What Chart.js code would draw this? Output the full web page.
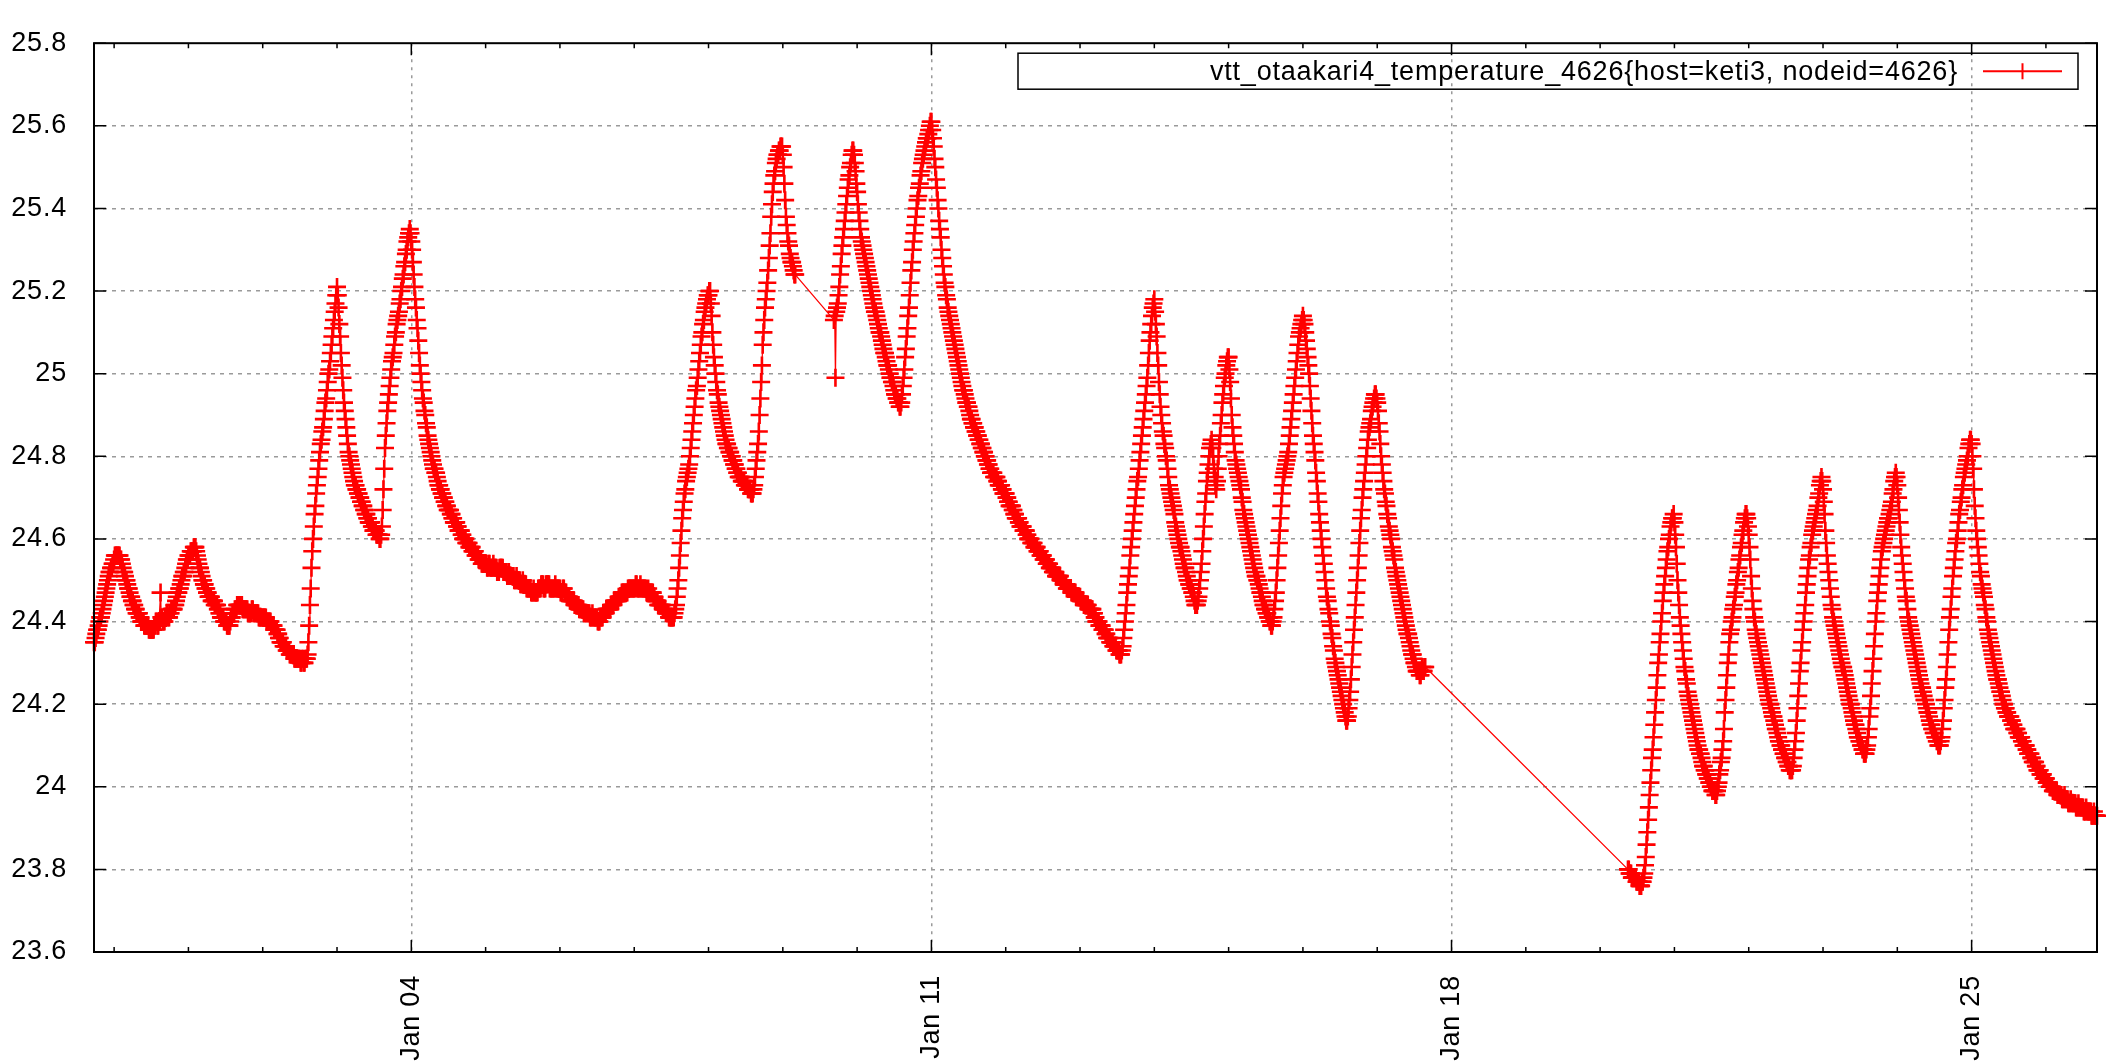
<!DOCTYPE html>
<html>
<head>
<meta charset="utf-8">
<script src="https://cdn.jsdelivr.net/npm/chart.js@4.4.1/dist/chart.umd.min.js"></script>
<style>
  html, body { margin: 0; padding: 0; background: #ffffff; }
  canvas { display: block; }
</style>
</head>
<body>
<canvas id="chart" width="2112" height="1063"></canvas>
<script>
// ---------------- DATA ----------------
const SERIES_LABEL = "vtt_otaakari4_temperature_4626{host=keti3, nodeid=4626}";
// x values are "day of January" (Jan 1 00:00 = 1, Dec 31 00:00 = 0)
const SAMPLE_STEP_DAYS = 1 / 96;                      // 15-minute samples
const segmentStartDays = [-0.2708333, 9.6875, 20.375]; // start of each recorded stretch

const seg1Temps = [
  24.35,24.35,24.36,24.37,24.38,24.38,24.39,24.40,24.41,24.41,24.42,24.43,24.44,24.45,24.46,24.47,24.48,24.49,24.50,24.51,24.52,24.52,24.53,24.53,24.54,24.54,
  // Dec 31
  24.55,24.56,24.56,24.56,24.56,24.56,24.56,24.56,24.55,24.55,24.54,24.53,24.52,24.52,24.51,24.50,24.50,24.49,24.48,24.48,24.47,24.46,24.46,24.45,
  24.45,24.44,24.44,24.43,24.43,24.42,24.42,24.42,24.42,24.41,24.41,24.40,24.40,24.40,24.40,24.39,24.39,24.39,24.39,24.39,24.39,24.38,24.38,24.38,
  24.38,24.38,24.38,24.38,24.39,24.39,24.40,24.40,24.39,24.39,24.40,24.40,24.47,24.41,24.41,24.40,24.40,24.40,24.41,24.41,24.42,24.42,24.41,24.41,
  24.42,24.42,24.43,24.43,24.43,24.43,24.44,24.44,24.45,24.46,24.47,24.47,24.48,24.48,24.49,24.50,24.51,24.51,24.52,24.52,24.53,24.54,24.55,24.55,
  // Jan 01
  24.56,24.56,24.56,24.57,24.57,24.57,24.57,24.58,24.58,24.58,24.57,24.56,24.55,24.54,24.53,24.53,24.52,24.51,24.50,24.50,24.49,24.49,24.48,24.48,
  24.47,24.47,24.46,24.46,24.46,24.46,24.45,24.45,24.45,24.45,24.44,24.44,24.44,24.44,24.43,24.43,24.42,24.42,24.41,24.41,24.41,24.41,24.40,24.40,
  24.40,24.40,24.39,24.39,24.39,24.39,24.40,24.41,24.41,24.42,24.42,24.42,24.43,24.43,24.43,24.44,24.44,24.44,24.44,24.44,24.44,24.44,24.43,24.43,
  24.43,24.43,24.43,24.43,24.43,24.42,24.42,24.42,24.42,24.42,24.43,24.43,24.42,24.42,24.42,24.42,24.42,24.42,24.42,24.41,24.41,24.41,24.41,24.41,
  // Jan 02
  24.41,24.41,24.41,24.41,24.41,24.40,24.40,24.40,24.40,24.40,24.40,24.39,24.39,24.39,24.39,24.38,24.38,24.38,24.38,24.37,24.37,24.36,24.36,24.35,
  24.35,24.35,24.35,24.34,24.34,24.34,24.34,24.33,24.33,24.33,24.33,24.32,24.32,24.32,24.32,24.32,24.32,24.31,24.31,24.31,24.31,24.31,24.31,24.31,
  24.31,24.30,24.30,24.31,24.31,24.30,24.30,24.31,24.31,24.31,24.32,24.35,24.39,24.44,24.48,24.53,24.57,24.60,24.63,24.66,24.68,24.71,24.73,24.75,
  24.77,24.79,24.81,24.83,24.84,24.86,24.87,24.89,24.91,24.93,24.94,24.96,24.98,25.00,25.01,25.03,25.05,25.07,25.09,25.11,25.13,25.15,25.17,25.19,
  // Jan 03
  25.21,25.19,25.16,25.12,25.09,25.05,25.02,24.99,24.96,24.93,24.91,24.89,24.87,24.85,24.83,24.81,24.80,24.79,24.78,24.77,24.76,24.75,24.74,24.73,
  24.73,24.72,24.72,24.71,24.71,24.70,24.70,24.69,24.69,24.68,24.68,24.67,24.67,24.66,24.66,24.65,24.65,24.64,24.64,24.64,24.64,24.63,24.63,24.62,
  24.62,24.62,24.62,24.61,24.61,24.61,24.61,24.60,24.60,24.61,24.63,24.67,24.72,24.77,24.82,24.85,24.88,24.91,24.93,24.95,24.97,24.99,25.01,25.03,
  25.04,25.05,25.07,25.09,25.10,25.12,25.13,25.14,25.15,25.17,25.18,25.20,25.21,25.23,25.24,25.26,25.27,25.29,25.30,25.32,25.33,25.34,25.35,25.34,
  // Jan 04
  25.32,25.30,25.27,25.24,25.21,25.18,25.16,25.13,25.11,25.08,25.05,25.02,25.00,24.98,24.96,24.94,24.93,24.91,24.90,24.88,24.87,24.85,24.84,24.83,
  24.82,24.81,24.80,24.79,24.78,24.77,24.77,24.76,24.76,24.75,24.74,24.73,24.73,24.72,24.72,24.71,24.71,24.70,24.70,24.69,24.69,24.68,24.68,24.67,
  24.67,24.67,24.67,24.66,24.66,24.65,24.65,24.64,24.64,24.64,24.64,24.63,24.63,24.62,24.62,24.62,24.62,24.61,24.61,24.60,24.60,24.60,24.60,24.59,
  24.59,24.59,24.59,24.58,24.58,24.58,24.58,24.57,24.57,24.57,24.57,24.56,24.56,24.56,24.56,24.55,24.55,24.55,24.55,24.54,24.54,24.54,24.54,24.54,
  // Jan 05
  24.54,24.54,24.53,24.53,24.54,24.54,24.53,24.53,24.53,24.53,24.54,24.53,24.53,24.53,24.53,24.52,24.52,24.52,24.53,24.53,24.53,24.53,24.53,24.52,
  24.52,24.52,24.52,24.52,24.51,24.51,24.52,24.51,24.51,24.51,24.51,24.51,24.51,24.50,24.50,24.50,24.51,24.50,24.50,24.50,24.50,24.49,24.49,24.49,
  24.50,24.49,24.49,24.49,24.49,24.48,24.48,24.48,24.48,24.48,24.48,24.47,24.47,24.47,24.48,24.47,24.47,24.47,24.47,24.47,24.48,24.48,24.48,24.48,
  24.49,24.49,24.49,24.48,24.48,24.48,24.49,24.49,24.49,24.49,24.49,24.48,24.48,24.48,24.48,24.48,24.48,24.48,24.49,24.48,24.48,24.48,24.48,24.48,
  // Jan 06
  24.48,24.47,24.47,24.47,24.48,24.48,24.47,24.47,24.47,24.46,24.46,24.46,24.46,24.45,24.45,24.45,24.45,24.45,24.45,24.44,24.44,24.44,24.44,24.44,
  24.44,24.43,24.43,24.43,24.43,24.43,24.43,24.42,24.42,24.42,24.42,24.42,24.42,24.42,24.42,24.41,24.41,24.41,24.42,24.41,24.41,24.41,24.41,24.41,
  24.41,24.40,24.40,24.40,24.41,24.41,24.41,24.41,24.42,24.42,24.42,24.42,24.43,24.43,24.43,24.43,24.43,24.43,24.44,24.44,24.44,24.44,24.45,24.45,
  24.45,24.45,24.45,24.45,24.46,24.46,24.46,24.46,24.47,24.47,24.47,24.47,24.47,24.47,24.47,24.47,24.48,24.48,24.48,24.48,24.48,24.48,24.48,24.48,
  // Jan 07
  24.48,24.48,24.49,24.49,24.48,24.48,24.48,24.48,24.49,24.48,24.48,24.48,24.48,24.48,24.48,24.48,24.47,24.47,24.48,24.47,24.47,24.47,24.47,24.47,
  24.47,24.46,24.46,24.45,24.45,24.45,24.45,24.44,24.44,24.44,24.44,24.44,24.44,24.43,24.43,24.43,24.43,24.42,24.42,24.42,24.42,24.41,24.41,24.41,
  24.41,24.41,24.41,24.41,24.42,24.43,24.44,24.46,24.48,24.50,24.53,24.56,24.59,24.62,24.65,24.67,24.69,24.71,24.72,24.74,24.75,24.76,24.77,24.78,
  24.80,24.82,24.84,24.86,24.88,24.90,24.92,24.94,24.96,24.97,24.99,25.01,25.03,25.05,25.07,25.09,25.10,25.12,25.13,25.15,25.16,25.17,25.18,25.19,
  // Jan 08
  25.19,25.20,25.20,25.17,25.14,25.10,25.07,25.04,25.02,25.00,24.98,24.96,24.95,24.93,24.92,24.91,24.90,24.89,24.88,24.87,24.86,24.85,24.84,24.83,
  24.83,24.82,24.82,24.81,24.81,24.80,24.80,24.79,24.79,24.78,24.78,24.77,24.77,24.76,24.76,24.75,24.75,24.75,24.75,24.74,24.74,24.74,24.74,24.73,
  24.73,24.73,24.73,24.72,24.72,24.72,24.72,24.71,24.71,24.71,24.72,24.73,24.75,24.77,24.79,24.81,24.83,24.86,24.90,24.94,24.98,25.02,25.07,25.10,
  25.13,25.16,25.18,25.20,25.22,25.25,25.28,25.31,25.34,25.38,25.41,25.44,25.46,25.48,25.49,25.51,25.52,25.53,25.53,25.54,25.54,25.55,25.55,25.55,
  // Jan 09
  25.53,25.50,25.46,25.42,25.38,25.36,25.34,25.32,25.31,25.29,25.28,25.27,25.27,25.26,25.25,25.24,25.24
];

const seg2Temps = [
  25.13,25.14,24.99,25.15,25.16,25.17,25.19,25.21,25.24,25.26,25.29,25.31,25.33,25.35,25.37,25.39,25.41,25.43,25.45,25.47,25.48,25.50,25.51,25.53,25.54,25.54,25.53,25.51,25.49,25.46,
  // Jan 10
  25.44,25.41,25.39,25.37,25.35,25.33,25.32,25.31,25.30,25.29,25.28,25.27,25.26,25.25,25.24,25.23,25.22,25.21,25.20,25.19,25.18,25.17,25.16,25.15,
  25.15,25.14,25.13,25.12,25.11,25.10,25.10,25.09,25.08,25.07,25.06,25.05,25.05,25.04,25.03,25.02,25.02,25.01,25.00,24.99,24.99,24.98,24.98,24.97,
  24.96,24.95,24.95,24.94,24.94,24.93,24.93,24.92,24.92,24.93,24.95,24.97,24.99,25.01,25.04,25.06,25.09,25.11,25.14,25.16,25.19,25.22,25.25,25.27,
  25.30,25.32,25.34,25.36,25.38,25.40,25.42,25.43,25.45,25.46,25.48,25.49,25.51,25.52,25.53,25.54,25.55,25.56,25.57,25.57,25.58,25.59,25.60,25.61,
  // Jan 11
  25.61,25.59,25.57,25.55,25.52,25.50,25.47,25.45,25.42,25.40,25.37,25.35,25.33,25.30,25.28,25.26,25.24,25.22,25.21,25.19,25.18,25.16,25.15,25.14,
  25.13,25.12,25.11,25.10,25.09,25.08,25.07,25.06,25.05,25.04,25.03,25.02,25.01,25.00,24.99,24.98,24.97,24.96,24.96,24.95,24.94,24.93,24.93,24.92,
  24.92,24.91,24.90,24.89,24.89,24.88,24.88,24.87,24.87,24.86,24.86,24.85,24.85,24.84,24.84,24.83,24.83,24.82,24.82,24.81,24.81,24.80,24.80,24.79,
  24.79,24.78,24.78,24.77,24.77,24.76,24.76,24.76,24.76,24.75,24.75,24.75,24.75,24.74,24.74,24.73,24.73,24.73,24.73,24.72,24.72,24.71,24.71,24.71,
  // Jan 12
  24.71,24.70,24.70,24.69,24.69,24.68,24.68,24.68,24.68,24.67,24.67,24.66,24.66,24.65,24.65,24.65,24.65,24.64,24.64,24.63,24.63,24.63,24.63,24.62,
  24.62,24.62,24.62,24.61,24.61,24.60,24.60,24.60,24.60,24.59,24.59,24.59,24.59,24.58,24.58,24.58,24.58,24.57,24.57,24.57,24.57,24.56,24.56,24.56,
  24.56,24.55,24.55,24.55,24.55,24.54,24.54,24.54,24.54,24.53,24.53,24.53,24.53,24.52,24.52,24.52,24.52,24.51,24.51,24.51,24.51,24.51,24.51,24.50,
  24.50,24.50,24.50,24.49,24.49,24.49,24.49,24.48,24.48,24.48,24.48,24.48,24.48,24.47,24.47,24.47,24.47,24.47,24.47,24.46,24.46,24.46,24.46,24.46,
  // Jan 13
  24.46,24.45,24.45,24.45,24.45,24.44,24.44,24.44,24.44,24.44,24.44,24.43,24.43,24.43,24.43,24.43,24.43,24.42,24.42,24.41,24.41,24.40,24.40,24.40,
  24.40,24.39,24.39,24.39,24.39,24.38,24.38,24.38,24.38,24.37,24.37,24.36,24.36,24.36,24.36,24.35,24.35,24.35,24.35,24.34,24.34,24.34,24.34,24.33,
  24.33,24.33,24.33,24.32,24.32,24.32,24.33,24.34,24.36,24.38,24.40,24.42,24.44,24.47,24.49,24.51,24.53,24.56,24.58,24.60,24.62,24.64,24.66,24.68,
  24.70,24.72,24.74,24.75,24.77,24.79,24.81,24.83,24.85,24.87,24.89,24.91,24.93,24.95,24.97,24.99,25.02,25.05,25.08,25.10,25.12,25.14,25.16,25.17,
  // Jan 14
  25.18,25.15,25.12,25.09,25.05,25.02,24.98,24.95,24.92,24.90,24.88,24.86,24.85,24.83,24.82,24.80,24.79,24.77,24.75,24.73,24.72,24.71,24.70,24.69,
  24.68,24.67,24.66,24.64,24.63,24.62,24.61,24.60,24.59,24.58,24.58,24.57,24.56,24.55,24.54,24.53,24.53,24.52,24.51,24.50,24.50,24.49,24.49,24.48,
  24.48,24.47,24.47,24.46,24.45,24.44,24.44,24.44,24.45,24.46,24.48,24.50,24.52,24.54,24.57,24.60,24.63,24.66,24.69,24.71,24.74,24.76,24.78,24.80,
  24.82,24.83,24.84,24.82,24.80,24.77,24.75,24.73,24.72,24.74,24.77,24.80,24.83,24.85,24.88,24.90,24.93,24.95,24.97,24.99,25.00,25.02,25.03,25.04,
  // Jan 15
  25.04,25.01,24.98,24.94,24.90,24.87,24.85,24.83,24.81,24.79,24.78,24.77,24.76,24.75,24.74,24.73,24.72,24.70,24.69,24.67,24.66,24.65,24.64,24.63,
  24.62,24.61,24.60,24.59,24.58,24.57,24.56,24.55,24.54,24.53,24.52,24.51,24.51,24.50,24.50,24.49,24.48,24.47,24.47,24.46,24.45,24.44,24.44,24.43,
  24.43,24.42,24.42,24.41,24.41,24.40,24.40,24.39,24.39,24.40,24.41,24.43,24.45,24.47,24.50,24.53,24.56,24.59,24.62,24.65,24.68,24.71,24.73,24.75,
  24.76,24.77,24.78,24.79,24.80,24.81,24.83,24.85,24.87,24.89,24.91,24.93,24.95,24.97,24.99,25.01,25.03,25.05,25.07,25.09,25.10,25.11,25.12,25.13,
  // Jan 16
  25.14,25.13,25.12,25.10,25.08,25.06,25.04,25.02,25.00,24.97,24.94,24.91,24.88,24.85,24.83,24.81,24.79,24.76,24.74,24.71,24.69,24.66,24.64,24.62,
  24.60,24.58,24.56,24.54,24.52,24.50,24.48,24.46,24.45,24.43,24.42,24.40,24.39,24.37,24.36,24.34,24.33,24.31,24.30,24.29,24.28,24.27,24.26,24.25,
  24.24,24.23,24.22,24.21,24.20,24.19,24.18,24.17,24.16,24.16,24.17,24.19,24.21,24.23,24.26,24.29,24.32,24.35,24.38,24.41,24.44,24.47,24.50,24.53,
  24.56,24.59,24.62,24.65,24.67,24.70,24.72,24.74,24.76,24.78,24.80,24.82,24.84,24.86,24.87,24.88,24.89,24.91,24.92,24.93,24.94,24.95,24.95,24.94,
  // Jan 17
  24.93,24.91,24.88,24.86,24.83,24.80,24.78,24.76,24.74,24.72,24.71,24.69,24.68,24.66,24.65,24.63,24.62,24.61,24.60,24.58,24.57,24.56,24.55,24.53,
  24.52,24.51,24.50,24.49,24.48,24.47,24.46,24.45,24.44,24.43,24.42,24.41,24.40,24.39,24.38,24.37,24.37,24.36,24.35,24.34,24.33,24.32,24.32,24.31,
  24.30,24.30,24.29,24.28,24.28,24.28,24.28,24.27,24.27,24.28,24.29,24.28,24.28,24.29,24.29
];

const seg3Temps = [
  23.80,23.80,23.79,23.79,23.79,23.78,23.78,23.78,23.78,23.78,23.78,23.77,23.77,23.77,23.77,23.76,23.76,23.76,23.77,23.77,23.78,23.79,23.81,23.83,
  23.86,23.89,23.92,23.95,23.98,24.01,24.04,24.07,24.09,24.12,24.15,24.18,24.21,24.24,24.27,24.30,24.32,24.35,24.37,24.40,24.42,24.45,24.47,24.49,
  24.51,24.53,24.55,24.57,24.58,24.60,24.61,24.63,24.64,24.65,24.65,24.66,
  // Jan 21
  24.64,24.61,24.58,24.54,24.50,24.47,24.44,24.41,24.39,24.37,24.35,24.33,24.31,24.29,24.28,24.26,24.25,24.23,24.22,24.21,24.20,24.19,24.18,24.17,
  24.16,24.15,24.14,24.13,24.12,24.11,24.10,24.09,24.09,24.08,24.08,24.07,24.06,24.05,24.05,24.04,24.04,24.03,24.03,24.02,24.02,24.01,24.01,24.00,
  24.00,23.99,23.99,23.99,23.99,23.98,23.98,23.99,24.00,24.01,24.03,24.04,24.06,24.07,24.09,24.11,24.14,24.18,24.21,24.24,24.27,24.30,24.32,24.35,
  24.37,24.38,24.40,24.41,24.43,24.44,24.46,24.47,24.49,24.50,24.52,24.53,24.55,24.56,24.58,24.59,24.61,24.62,24.64,24.65,24.66,24.66,24.65,24.63,
  // Jan 22
  24.61,24.58,24.55,24.51,24.48,24.45,24.43,24.41,24.40,24.38,24.37,24.36,24.35,24.34,24.33,24.32,24.31,24.30,24.29,24.28,24.27,24.26,24.25,24.24,
  24.23,24.22,24.21,24.20,24.20,24.19,24.18,24.17,24.17,24.16,24.15,24.14,24.14,24.13,24.12,24.11,24.11,24.10,24.10,24.09,24.09,24.08,24.08,24.07,
  24.07,24.06,24.06,24.05,24.05,24.04,24.04,24.04,24.04,24.05,24.07,24.09,24.11,24.13,24.16,24.19,24.22,24.25,24.28,24.30,24.33,24.35,24.38,24.40,
  24.42,24.44,24.47,24.49,24.51,24.53,24.55,24.56,24.58,24.59,24.61,24.62,24.63,24.64,24.65,24.66,24.67,24.68,24.70,24.71,24.73,24.74,24.75,24.74,
  // Jan 23
  24.72,24.69,24.66,24.62,24.59,24.56,24.54,24.52,24.50,24.48,24.46,24.44,24.43,24.41,24.40,24.39,24.38,24.37,24.36,24.35,24.34,24.33,24.32,24.31,
  24.30,24.29,24.29,24.28,24.27,24.26,24.25,24.24,24.23,24.22,24.21,24.20,24.20,24.19,24.18,24.17,24.16,24.15,24.15,24.14,24.13,24.12,24.12,24.11,
  24.11,24.10,24.10,24.09,24.09,24.08,24.08,24.08,24.09,24.10,24.12,24.14,24.17,24.19,24.22,24.25,24.28,24.31,24.34,24.37,24.40,24.42,24.45,24.47,
  24.49,24.51,24.53,24.55,24.57,24.58,24.59,24.60,24.61,24.62,24.63,24.64,24.65,24.65,24.66,24.67,24.68,24.69,24.71,24.72,24.74,24.75,24.76,24.75,
  // Jan 24
  24.73,24.70,24.67,24.64,24.61,24.58,24.56,24.54,24.52,24.50,24.48,24.46,24.45,24.43,24.41,24.40,24.39,24.38,24.37,24.36,24.35,24.34,24.33,24.32,
  24.31,24.30,24.29,24.28,24.27,24.26,24.25,24.24,24.24,24.23,24.22,24.21,24.21,24.20,24.19,24.18,24.18,24.17,24.16,24.15,24.15,24.14,24.14,24.13,
  24.13,24.12,24.12,24.11,24.11,24.10,24.10,24.10,24.11,24.12,24.14,24.16,24.19,24.21,24.24,24.26,24.29,24.32,24.35,24.38,24.41,24.43,24.46,24.48,
  24.51,24.53,24.55,24.57,24.59,24.60,24.62,24.64,24.66,24.67,24.69,24.70,24.72,24.73,24.75,24.76,24.77,24.78,24.79,24.80,24.82,24.83,24.84,24.84,
  // Jan 25
  24.83,24.80,24.77,24.72,24.68,24.65,24.62,24.60,24.58,24.56,24.54,24.52,24.51,24.49,24.48,24.47,24.46,24.44,24.43,24.41,24.40,24.38,24.37,24.36,
  24.35,24.34,24.33,24.32,24.31,24.30,24.29,24.28,24.27,24.26,24.26,24.25,24.24,24.23,24.23,24.22,24.21,24.20,24.20,24.19,24.19,24.18,24.18,24.17,
  24.17,24.17,24.17,24.16,24.16,24.15,24.15,24.14,24.14,24.14,24.14,24.13,24.13,24.12,24.12,24.12,24.12,24.11,24.11,24.10,24.10,24.10,24.10,24.09,
  24.09,24.08,24.08,24.08,24.08,24.07,24.07,24.06,24.06,24.06,24.06,24.05,24.05,24.04,24.04,24.04,24.04,24.03,24.03,24.03,24.03,24.02,24.02,24.02,
  // Jan 26
  24.02,24.01,24.01,24.01,24.01,24.00,24.00,24.00,24.00,23.99,23.99,23.99,23.99,23.99,23.99,23.98,23.98,23.98,23.98,23.98,23.98,23.97,23.97,23.97,
  23.98,23.97,23.97,23.97,23.97,23.96,23.96,23.96,23.97,23.96,23.96,23.96,23.96,23.96,23.96,23.95,23.95,23.95,23.96,23.95,23.95,23.95,23.95,23.95,
  23.95,23.94,23.94,23.94,23.95,23.94,23.94,23.94,23.94,23.94,23.94,23.93,23.93,23.93,23.94,23.93,23.93,23.93,23.93
];

const xLabelDays  = [4, 11, 18, 25];
const xLabelTexts = ["Jan 04", "Jan 11", "Jan 18", "Jan 25"];
const yMin = 23.6, yMax = 25.8, yStep = 0.2;

// ---------------- BUILD ----------------
const points = [];
[seg1Temps, seg2Temps, seg3Temps].forEach((seg, s) => {
  seg.forEach((v, i) => points.push({ x: segmentStartDays[s] + i * SAMPLE_STEP_DAYS, y: v }));
});
const xMin = points[0].x, xMax = points[points.length - 1].x;

const FONT_FAMILY = "'Liberation Sans', Arial, sans-serif";
const FONT = { family: FONT_FAMILY, size: 27 };
const GRID_COLOR = '#9a9a9a';
const CLEAR = 'rgba(0,0,0,0)';

const spacingPlugin = {
  id: 'spacing',
  beforeDraw(chart) { try { chart.ctx.letterSpacing = '0.8px'; } catch (e) {} }
};

const frameTicksPlugin = {
  id: 'frameTicks',
  afterDraw(chart) {
    const { ctx, chartArea: a, scales: { x, y } } = chart;
    ctx.save();
    ctx.strokeStyle = '#000';
    ctx.lineWidth = 1.5;
    ctx.beginPath();
    y.ticks.forEach(t => {
      const py = y.getPixelForValue(t.value);
      ctx.moveTo(a.left, py); ctx.lineTo(a.left + 12, py);
      ctx.moveTo(a.right, py); ctx.lineTo(a.right - 12, py);
    });
    x.ticks.forEach(t => {
      const px = x.getPixelForValue(t.value);
      const len = xLabelDays.includes(t.value) ? 12 : 5;
      ctx.moveTo(px, a.bottom); ctx.lineTo(px, a.bottom - len);
      ctx.moveTo(px, a.top); ctx.lineTo(px, a.top + len);
    });
    ctx.stroke();
    ctx.lineWidth = 2;
    ctx.strokeRect(a.left, a.top, a.right - a.left, a.bottom - a.top);
    ctx.restore();
  }
};

const keyPlugin = {
  id: 'gnuplotKey',
  afterDraw(chart) {
    const { ctx, chartArea: a } = chart;
    const ds = chart.data.datasets[0];
    const boxL = a.right - 1079, boxR = a.right - 19, boxT = a.top + 10, boxB = a.top + 46;
    const cy = (boxT + boxB) / 2;
    ctx.save();
    ctx.strokeStyle = '#000';
    ctx.lineWidth = 1.5;
    ctx.strokeRect(boxL, boxT, boxR - boxL, boxB - boxT);
    ctx.font = '27px ' + FONT_FAMILY;
    ctx.fillStyle = '#000';
    ctx.textAlign = 'right';
    ctx.textBaseline = 'middle';
    ctx.fillText(ds.label, a.right - 139, cy + 1);
    const sx1 = a.right - 114, sx2 = a.right - 35, sxm = (sx1 + sx2) / 2;
    ctx.strokeStyle = ds.borderColor;
    ctx.lineWidth = 2;
    ctx.beginPath();
    ctx.moveTo(sx1, cy); ctx.lineTo(sx2, cy);
    ctx.moveTo(sxm, cy - 8); ctx.lineTo(sxm, cy + 8);
    ctx.stroke();
    ctx.restore();
  }
};

new Chart(document.getElementById('chart').getContext('2d'), {
  type: 'line',
  data: {
    datasets: [{
      label: SERIES_LABEL,
      data: points,
      borderColor: '#ff0000',
      backgroundColor: '#ff0000',
      borderWidth: 1.2,
      pointStyle: 'cross',
      pointRadius: 9,
      pointHoverRadius: 9,
      pointBorderWidth: 2.6,
      pointBorderColor: '#ff0000',
      fill: false,
      tension: 0,
      clip: false
    }]
  },
  options: {
    responsive: false,
    animation: false,
    devicePixelRatio: 1,
    events: [],
    layout: { padding: { top: 20, right: 15, left: 0, bottom: 0 } },
    plugins: { legend: { display: false }, tooltip: { enabled: false } },
    scales: {
      x: {
        type: 'linear',
        min: xMin,
        max: xMax,
        afterFit: s => { s.height = 111; },
        grid: {
          color: c => (c.tick && xLabelDays.includes(c.tick.value)) ? GRID_COLOR : CLEAR,
          lineWidth: 1.5,
          drawTicks: false
        },
        border: { display: false, dash: [3, 5] },
        ticks: {
          stepSize: 1,
          autoSkip: false,
          includeBounds: false,
          minRotation: 90,
          maxRotation: 90,
          padding: 23,
          font: FONT,
          color: '#000',
          callback: v => { const i = xLabelDays.indexOf(v); return i >= 0 ? xLabelTexts[i] : ''; }
        }
      },
      y: {
        type: 'linear',
        min: yMin,
        max: yMax,
        afterFit: s => { s.width = 94; },
        grid: {
          color: c => (c.tick && c.tick.value > yMin + 1e-6 && c.tick.value < yMax - 1e-6) ? GRID_COLOR : CLEAR,
          lineWidth: 1.5,
          drawTicks: false
        },
        border: { display: false, dash: [4, 5] },
        ticks: {
          stepSize: yStep,
          padding: 27,
          font: FONT,
          color: '#000',
          callback: v => String(Math.round(v * 10) / 10)
        }
      }
    }
  },
  plugins: [spacingPlugin, frameTicksPlugin, keyPlugin]
});
</script>
</body>
</html>
